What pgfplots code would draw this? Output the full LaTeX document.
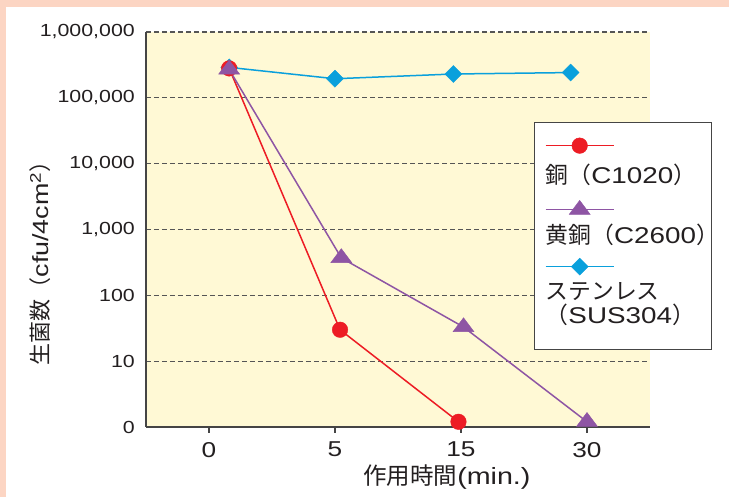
\documentclass[border=0pt]{standalone}
\usepackage{pgfplots}
\pgfplotsset{compat=1.18}
\usepackage{fontspec}
\setmainfont{Liberation Sans}[FakeStretch=1.22]
\newfontfamily\jp{Noto Sans CJK JP}

\definecolor{peach}{HTML}{FCD5C3}
\definecolor{plotbg}{HTML}{FFF9D5}
\definecolor{cured}{HTML}{ED1C24}
\definecolor{brass}{HTML}{8E55A4}
\definecolor{sus}{HTML}{0AA0DC}
\definecolor{axisgray}{HTML}{454545}
\definecolor{gridgray}{HTML}{555555}
\definecolor{ink}{HTML}{231F20}

\pgfplotsset{
  % legend sample: line with one mark in the middle, kept out of the cell size
  legline/.style={legend image code/.code={%
    \draw[overlay,mark repeat=2,mark phase=2]
      plot coordinates {(0pt,0pt) (34pt,0pt) (68pt,0pt)};}},
  notext/.style={legend image code/.code={}},
  copper/.style={color=cured, line width=1.5pt, mark=*, mark size=7.8pt,
    mark options={solid, line width=0.4pt}},
  brassline/.style={color=brass, line width=1.5pt, mark=triangle*, mark size=9.3pt,
    mark options={solid, line width=0.4pt, xscale=1.3}},
  steel/.style={color=sus, line width=1.5pt, mark=square*, mark size=6pt,
    mark options={solid, line width=0.4pt, rotate=45}},
}

\begin{document}
\begin{tikzpicture}[x=1pt,y=1pt,text=ink]
\useasboundingbox (0,0) rectangle (729,497);
\fill[peach] (0,0) rectangle (729,497);
\fill[white] (6,0) rectangle (729,490);
\begin{axis}[
  at={(146pt,70pt)}, anchor=south west,
  scale only axis, width=504pt, height=395pt,
  clip=false,
  xmin=-0.5, xmax=3.5,
  ymode=log, ymin=1, ymax=1e6,
  axis x line*=bottom, axis y line*=left,
  axis line style={axisgray, line width=1.4pt},
  axis background/.style={fill=plotbg},
  xtick={0,1,2,3}, xticklabels={0,5,15,30},
  ytick={1,10,100,1000,10000,100000,1000000},
  yticklabels={0,10,100,{1,000},{10,000},{100,000},{1,000,000}},
  yminorticks=false,
  tick align=outside, major tick length=6pt,
  xtick style={axisgray, line width=1.2pt},
  ytick style={draw=none},
  ymajorgrids,
  major grid style={gridgray, line width=1.1pt, dash pattern=on 5pt off 3pt},
  xticklabel style={inner sep=0pt, yshift=-9pt, font=\fontsize{21.5}{23}\selectfont},
  yticklabel style={inner sep=0pt, xshift=-5pt, font=\fontsize{17.5}{19}\selectfont},
  xlabel={{\jp 作用時間}(min.)},
  xlabel style={at={(rel axis cs:0.597,-0.1266)}, anchor=center,
    font=\fontsize{23.5}{25}\selectfont},
  ylabel={{\jp 生菌数（}cfu/4cm\textsuperscript{2}{\jp ）}},
  ylabel style={at={(rel axis cs:-0.2103,0.428)}, anchor=center,
    font=\fontsize{22}{24}\selectfont},
  legend style={at={(rel axis cs:0.770,0.772)}, anchor=north west,
    draw=axisgray, line width=1.2pt, fill=white,
    inner xsep=11pt, inner ysep=3pt, row sep=0pt, column sep=0pt,
    cells={anchor=base west},
    nodes={inner sep=0pt, anchor=base west, text depth=0pt,
      font=\fontsize{22.8}{25}\selectfont}},
]
% drawing order: stainless below copper, brass on top
\addplot[steel, forget plot] coordinates {
  (0.16,290000) (1.00,195000) (1.94,230000) (2.87,242000)};
\addplot[copper, forget plot] coordinates {
  (0.16,280000) (1.04,30) (1.98,1.2)};
\addplot[brassline, forget plot] coordinates {
  (0.16,270000) (1.05,370) (2.02,33) (3.00,1.2)};

\addlegendimage{copper, line width=1.3pt, legline}
\addlegendentry[text height=20pt, anchor=base west]{\mbox{}}
\addlegendimage{notext}
\addlegendentry[text height=38pt, anchor=base west]{{\jp 銅（}C1020{\jp ）}\kern-18pt}
\addlegendimage{brassline, line width=1.3pt, legline}
\addlegendentry[text height=26pt, anchor=base west]{\mbox{}}
\addlegendimage{notext}
\addlegendentry[text height=34pt, anchor=base west]{{\jp 黄銅（}C2600{\jp ）}\kern-18pt}
\addlegendimage{steel, line width=1.3pt, legline}
\addlegendentry[text height=23pt, anchor=base west]{\mbox{}}
\addlegendimage{notext}
\addlegendentry[text height=33pt, anchor=base west]{{\jp ステンレス}}
\addlegendimage{notext}
\addlegendentry[text height=24pt, text depth=23pt, anchor=base west]{{\jp （}SUS304{\jp ）}\kern-18pt}
\end{axis}
\end{tikzpicture}
\end{document}
